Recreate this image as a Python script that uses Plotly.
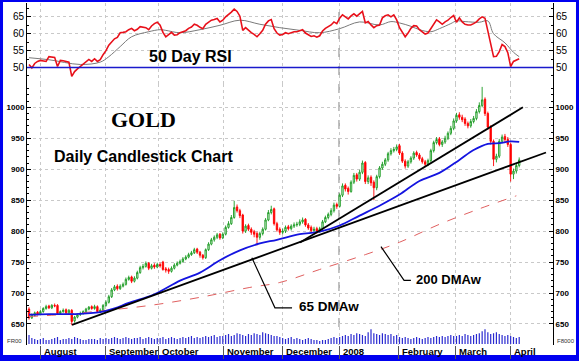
import plotly.graph_objects as go

# ---------------- data ----------------
opens = [674,660,664,669,666,670,675,679,676,680,
         680,667,670,673,668,672,655,661,665,667,
         670,674,678,675,678,670,672,680,685,694,
         705,711,707,711,714,722,726,719,724,733,
         741,743,748,740,745,742,746,750,739,738,
         735,740,745,748,751,755,758,762,765,771,
         766,761,757,770,779,786,790,795,789,795,
         806,812,822,839,833,826,800,809,803,799,
         796,790,796,803,818,830,836,812,803,798,
         800,807,804,808,810,811,815,819,810,806,
         801,804,800,804,815,822,827,833,843,840,
         858,874,869,864,879,891,884,895,911,880,
         887,879,870,888,902,908,915,925,930,932,
         938,926,913,905,912,918,927,923,917,912,
         908,914,930,943,949,940,944,950,958,966,
         978,988,984,981,974,970,977,982,993,1003,
         1013,990,968,945,916,921,945,953,948,940,
         892,897,906]
closes = [660,665,668,666,670,675,678,676,680,679,
          667,670,672,668,672,654,661,665,667,670,
          674,677,675,678,670,672,680,685,694,705,
          710,707,711,714,722,725,719,724,733,741,
          743,748,740,744,742,746,744,738,737,735,
          740,745,748,751,755,758,762,765,770,766,
          761,757,770,779,786,790,794,789,795,806,
          812,822,838,833,825,800,808,803,798,795,
          790,796,803,818,830,835,812,802,798,800,
          806,804,808,810,811,815,818,810,805,801,
          803,800,804,815,822,827,833,842,840,858,
          873,868,864,879,890,884,895,910,880,886,
          878,870,888,902,908,915,925,930,932,936,
          926,913,905,912,918,926,923,917,912,908,
          914,930,943,948,940,944,950,958,966,978,
          987,984,980,974,970,977,982,993,1003,1012,
          990,968,945,916,921,945,952,948,940,892,
          897,906,915]
highs = [677,667,670,671,673,677,681,681,682,683,
         682,672,675,675,674,674,663,667,670,672,
         676,679,680,681,680,675,682,688,697,708,
         713,714,714,717,725,728,728,727,736,744,
         747,751,750,747,748,749,749,752,742,741,
         743,748,751,754,758,761,765,768,773,773,
         768,763,772,782,789,793,797,797,798,809,
         816,826,849,843,836,828,811,812,806,802,
         799,799,806,821,834,841,838,815,806,804,
         809,810,811,814,815,819,822,821,813,809,
         807,807,807,818,825,830,837,846,846,861,
         877,877,872,882,894,894,899,914,913,890,
         890,882,891,905,912,918,928,934,936,940,
         941,929,916,915,921,929,930,926,920,915,
         917,933,946,952,952,947,954,961,970,982,
         991,992,988,984,977,981,986,997,1008,1033,
         1016,993,971,948,925,949,956,957,952,943,
         901,910,919]
lows = [657,658,662,664,664,668,673,674,674,677,
        665,665,668,666,666,648,652,659,663,665,
        668,672,673,673,668,668,670,678,683,692,
        703,704,705,709,712,720,716,717,722,731,
        738,741,737,738,739,740,741,736,733,731,
        733,738,743,746,749,753,756,760,763,763,
        757,754,755,768,777,783,787,786,787,793,
        804,810,820,830,821,796,797,800,794,790,
        777,786,793,801,816,827,809,799,794,795,
        797,801,801,805,807,808,812,807,802,797,
        798,796,797,802,813,819,824,830,836,838,
        855,864,859,862,876,880,881,892,876,876,
        873,850,866,885,899,905,912,922,927,929,
        923,910,901,902,909,915,920,914,909,904,
        905,911,927,940,937,936,941,947,955,963,
        975,980,976,970,966,967,974,979,990,1000,
        986,964,940,905,911,918,942,944,936,880,
        884,893,903]
volumes = [9,6,5,4,5,6,4,4,5,6,7,4,5,5,6,5,7,6,5,4,4,5,5,5,4,6,5,
           6,5,6,7,6,5,6,7,6,5,6,6,7,5,6,7,6,5,6,
           6,7,5,6,7,6,5,6,7,6,7,8,6,7,6,7,8,7,8,9,7,8,
           8,9,10,8,9,11,10,9,8,10,9,11,10,9,12,11,10,9,8,8,7,
           6,5,6,7,5,6,5,4,5,6,5,4,4,3,4,4,5,6,7,6,
           7,8,9,8,10,9,11,10,9,8,12,15,11,10,9,11,10,9,10,8,9,
           7,6,7,6,5,6,7,6,5,6,7,6,7,8,7,8,7,8,9,8,
           8,9,8,10,9,8,9,10,11,13,15,12,10,11,12,10,9,8,9,
           8,7,6,7]
rsi = [50.9,49.9,51.2,51.8,52.1,52.0,51.8,53.2,53.2,53.0,
       50.3,52.1,52.0,51.9,51.6,47.4,48.8,49.6,50.3,50.9,
       51.5,52.4,51.8,52.6,51.8,52.3,53.8,55.0,56.6,57.6,
       58.5,58.9,60.3,60.4,60.6,61.2,61.6,60.9,61.3,62.1,
       62.0,61.8,61.2,62.3,63.0,63.4,62.5,60.4,59.1,59.8,
       60.4,59.6,59.7,60.3,60.5,60.9,61.6,62.0,62.8,62.5,
       61.9,61.5,62.8,63.5,64.0,64.2,64.5,63.5,64.0,65.0,
       65.6,66.4,67.3,66.6,65.2,61.0,61.8,61.0,60.3,59.8,
       59.1,60.0,61.0,62.8,63.8,64.2,61.5,60.2,59.6,59.8,
       60.3,60.0,60.4,60.6,60.6,61.0,61.2,60.2,59.6,59.2,
       59.4,59.0,59.4,60.8,61.6,62.0,62.6,63.5,63.0,64.6,
       65.6,65.0,64.4,65.3,65.9,65.2,65.8,66.6,63.2,63.6,
       62.6,61.8,62.4,62.6,64.7,65.3,65.6,65.0,65.6,64.1,
       61.8,60.3,59.1,60.2,61.6,62.4,62.3,61.2,60.4,59.9,
       60.2,61.6,62.8,64.1,63.5,62.8,63.5,64.0,64.8,65.4,
       63.4,64.7,63.5,62.8,62.6,62.6,63.0,63.5,64.4,65.0,
       64.6,61.0,57.5,53.2,53.3,54.7,56.8,56.2,54.4,50.3,
       51.8,52.1,52.6]
rsi_ma_x = [0,7,18,25,28,32,36,42,46,48,53,60,67,74,81,88,95,102,109,116,
            123,127,130,134,137,141,144,148,150,153,158,161,163,167,170,172]
rsi_ma = [52.9,52.3,50.9,51.6,53.2,56.2,59.1,60.6,61.2,61.0,60.3,61.2,62.5,64.0,62.8,
          61.8,61.0,60.3,61.5,63.5,62.6,63.6,63.2,62.2,61.2,60.6,61.5,63.0,63.8,63.6,
          63.4,63.8,60.0,57.3,54.5,53.2]
dma65_x = [0,7,16,25,30,35,44,53,60,67,74,81,87,95,102,109,116,123,130,137,144,
           151,156,161,165,169,172]
dma65 = [665,666,666,669,675,684,698,720,733,753,769,780,786,795,799,809,825,841,
         859,881,894,915,931,941,942,945,944]
dma200_x = [0,11,25,42.5,60,77.5,88,102,118,130,143.5,158,171]
dma200 = [662,665,671,680,693,709,717,738,762,782,810,836,857]
trend_lower_x = [15.1, 181.4]
trend_lower_y = [648.4, 927]
trend_upper_x = [95.1, 173.3]
trend_upper_y = [781.6, 1000]
lead65_x = [78.2, 86.3, 92.3]
lead65_y = [757, 676, 676]
lead200_x = [123.5, 131.6, 134.0]
lead200_y = [775, 720.5, 720.5]
month_ticks = [3.9, 27, 45.6, 68.4, 89.1, 108.8, 129.8, 149.5, 169.1]
month_labels = ["August", "September", "October", "November", "December",
                "2008", "February", "March", "April"]
price_ticks = [650, 700, 750, 800, 850, 900, 950, 1000]
rsi_ticks = [50, 55, 60, 65]
rsi_ref = 50
year_break = 108.8

days = list(range(len(closes)))
SANS = "Liberation Sans, Arial, sans-serif"
XR = [-0.7, 183.86]

fig = go.Figure()

# RSI panel
fig.add_trace(go.Scatter(x=rsi_ma_x, y=rsi_ma, mode="lines", line=dict(color="#7a7a7a", width=1, shape="spline"),
                         xaxis="x", yaxis="y", hoverinfo="skip"))
fig.add_trace(go.Scatter(x=days, y=rsi, mode="lines", line=dict(color="#e8101a", width=1.6),
                         xaxis="x", yaxis="y", hoverinfo="skip"))

# price panel
fig.add_trace(go.Scatter(x=dma200_x, y=dma200, mode="lines",
                         line=dict(color="#e06060", width=1, dash="dash", shape="spline"),
                         xaxis="x", yaxis="y2", hoverinfo="skip"))
fig.add_trace(go.Candlestick(x=days, open=opens, high=highs, low=lows, close=closes,
                             increasing=dict(line=dict(color="#189a20", width=0.9), fillcolor="#e6f6e6"),
                             decreasing=dict(line=dict(color="#ff0000", width=0.9), fillcolor="#ff0000"),
                             whiskerwidth=0, xaxis="x", yaxis="y2", hoverinfo="skip"))
fig.add_trace(go.Scatter(x=dma65_x, y=dma65, mode="lines", line=dict(color="#1414e0", width=1.8, shape="spline"),
                         xaxis="x", yaxis="y2", hoverinfo="skip"))
fig.add_trace(go.Scatter(x=trend_lower_x, y=trend_lower_y, mode="lines", line=dict(color="black", width=1.8),
                         xaxis="x", yaxis="y2", hoverinfo="skip"))
fig.add_trace(go.Scatter(x=trend_upper_x, y=trend_upper_y, mode="lines", line=dict(color="black", width=1.8),
                         xaxis="x", yaxis="y2", hoverinfo="skip"))
fig.add_trace(go.Scatter(x=lead65_x, y=lead65_y, mode="lines", line=dict(color="black", width=1.2),
                         xaxis="x", yaxis="y2", hoverinfo="skip"))
fig.add_trace(go.Scatter(x=lead200_x, y=lead200_y, mode="lines", line=dict(color="black", width=1.2),
                         xaxis="x", yaxis="y2", hoverinfo="skip"))

# volume
fig.add_trace(go.Bar(x=days, y=volumes, width=0.42, marker=dict(color="#2a2ad0", line=dict(width=0)),
                     xaxis="x", yaxis="y3", hoverinfo="skip"))

# dummy traces for right-side mirror axes
fig.add_trace(go.Scatter(x=[None], y=[None], xaxis="x", yaxis="y4", hoverinfo="skip"))
fig.add_trace(go.Scatter(x=[None], y=[None], xaxis="x", yaxis="y5", hoverinfo="skip"))

RSI_DOM = [0.762, 1.0]
MAIN_DOM = [0.0, 0.762]
RSI_RANGE = [45.0, 69.1]
PRICE_RANGE = [616, 1037]

grid = dict(showgrid=True, gridcolor="#c9c9c9", griddash="dot", gridwidth=1)
rsi_axis = dict(domain=RSI_DOM, range=RSI_RANGE, tickvals=rsi_ticks, ticks="inside", ticklen=4,
                tickcolor="black", showline=True, linecolor="black", linewidth=1, zeroline=False,
                tickfont=dict(family=SANS, size=10, color="black"),
                minor=dict(dtick=2.5, ticks="inside", ticklen=2, tickcolor="black", showgrid=False))
price_axis = dict(domain=MAIN_DOM, range=PRICE_RANGE, tickvals=price_ticks, ticks="inside", ticklen=4,
                  tickcolor="black", showline=True, linecolor="black", linewidth=1, zeroline=False,
                  tickfont=dict(family=SANS, size=8, color="black", weight="bold"),
                  minor=dict(tick0=650, dtick=10, ticks="inside", ticklen=2, tickcolor="black", showgrid=False))

fig.update_layout(
    width=579, height=361,
    margin=dict(l=27, r=26, t=3, b=13),
    paper_bgcolor="#0000f0",
    plot_bgcolor="white",
    showlegend=False,
    xaxis=dict(domain=[0, 1], range=XR, anchor="y2", tickvals=month_ticks, ticktext=[""] * len(month_ticks),
               ticks="outside", ticklen=13, tickcolor="#555555", showline=False, zeroline=False,
               rangeslider=dict(visible=False), **grid),
    yaxis=dict(anchor="x", side="left", **rsi_axis, **grid),
    yaxis4=dict(anchor="x", overlaying="y", side="right", showgrid=False, **rsi_axis),
    yaxis2=dict(anchor="x", side="left", **price_axis, **grid),
    yaxis5=dict(anchor="x", overlaying="y2", side="right", showgrid=False, **price_axis),
    yaxis3=dict(domain=[0.003, 0.052], range=[0, 17], anchor="x", visible=False),
)

shapes = [
    dict(type="rect", xref="paper", yref="paper", x0=-0.0456, x1=1.0437, y0=-0.029, y1=1.003,
         fillcolor="white", line=dict(width=0), layer="below"),
    dict(type="line", xref="paper", yref="y", x0=0, x1=1, y0=rsi_ref, y1=rsi_ref,
         line=dict(color="#1a1acc", width=1.6)),
    dict(type="line", xref="x", yref="paper", x0=year_break, x1=year_break, y0=0, y1=1,
         line=dict(color="#a0a0a0", width=1.5, dash="dash"), layer="below"),
]
fig.update_layout(shapes=shapes)

ann = []
for t, lab in zip(month_ticks, month_labels):
    ann.append(dict(x=t + 0.5, y=-0.018, xref="x", yref="paper", text=lab, showarrow=False,
                    xanchor="left", yanchor="middle",
                    font=dict(family=SANS, size=9.5, color="black", weight="bold")))
ann += [
    dict(x=41.4, y=53.2, xref="x", yref="y", text="50 Day RSI", showarrow=False, xanchor="left",
         yanchor="middle", font=dict(family=SANS, size=16, color="black", weight="bold")),
    dict(x=40.0, y=980, xref="x", yref="y2", text="GOLD", showarrow=False, xanchor="center",
         yanchor="middle", font=dict(family="Liberation Serif, Times New Roman, serif", size=22,
                                     color="black", weight="bold")),
    dict(x=8.1, y=921, xref="x", yref="y2", text="Daily Candlestick Chart", showarrow=False,
         xanchor="left", yanchor="middle", font=dict(family=SANS, size=16, color="black", weight="bold")),
    dict(x=94.0, y=678, xref="x", yref="y2", text="65 DMAw", showarrow=False, xanchor="left",
         yanchor="middle", font=dict(family=SANS, size=13.5, color="black", weight="bold")),
    dict(x=135.1, y=722, xref="x", yref="y2", text="200 DMAw", showarrow=False, xanchor="left",
         yanchor="middle", font=dict(family=SANS, size=13, color="black", weight="bold")),
    dict(x=-0.005, y=0.013, xref="paper", yref="paper", text="FR00", showarrow=False, xanchor="right",
         yanchor="middle", font=dict(family=SANS, size=6, color="#333333")),
    dict(x=1.004, y=0.013, xref="paper", yref="paper", text="F8000", showarrow=False, xanchor="left",
         yanchor="middle", font=dict(family=SANS, size=6, color="#333333")),
]
fig.update_layout(annotations=ann)

fig.write_html("out.html",
               config={"displayModeBar": False, "staticPlot": True},
               post_script="document.body.style.margin='0';document.body.style.overflow='hidden';")
